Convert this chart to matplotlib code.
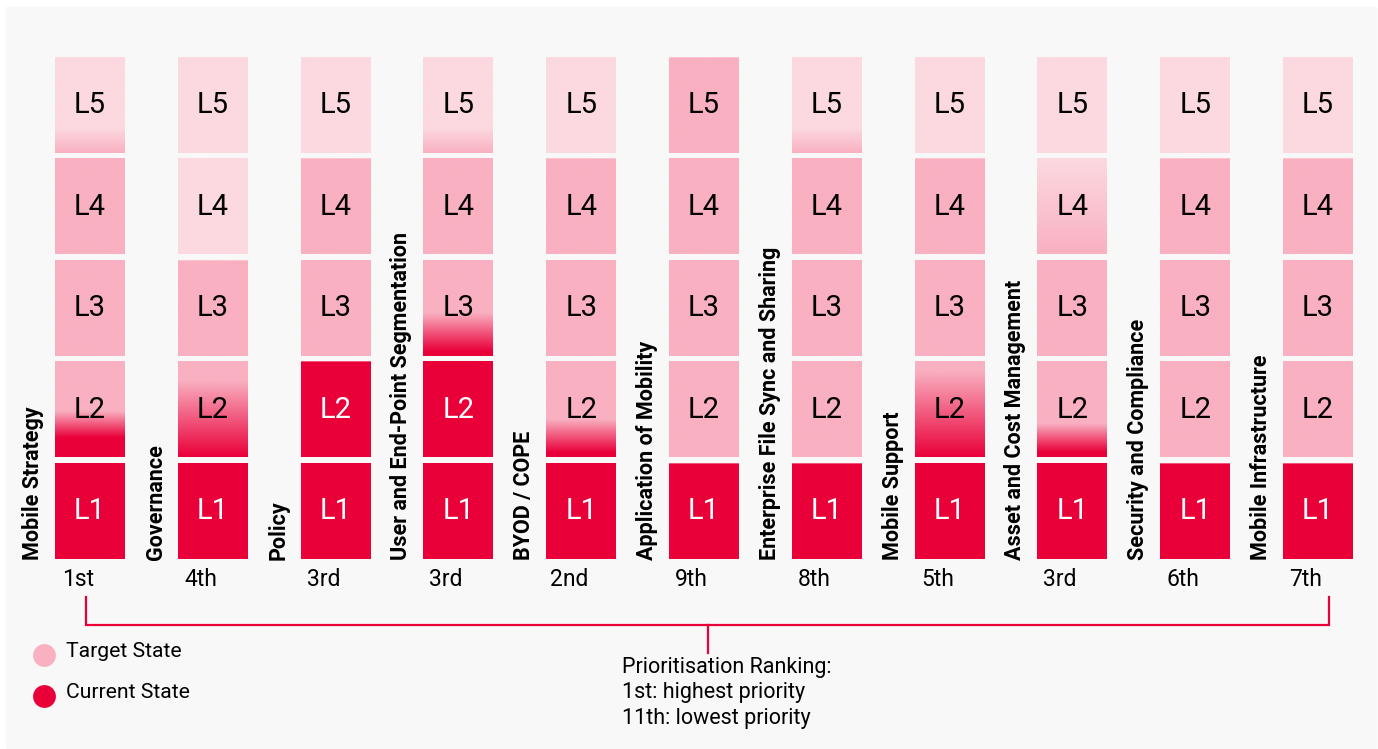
import numpy as np
import matplotlib.pyplot as plt
from matplotlib.colors import to_rgb
from matplotlib.patches import Rectangle

plt.rcParams['font.family'] = ['Roboto', 'DejaVu Sans']

categories = ['Mobile Strategy', 'Governance', 'Policy', 'User and End-Point Segmentation',
              'BYOD / COPE', 'Application of Mobility', 'Enterprise File Sync and Sharing',
              'Mobile Support', 'Asset and Cost Management', 'Security and Compliance',
              'Mobile Infrastructure']
ranks = ['1st', '4th', '3rd', '3rd', '2nd', '9th', '8th', '5th', '3rd', '6th', '7th']
levels = ['L1', 'L2', 'L3', 'L4', 'L5']

# maturity levels (fractional), with how soft the edge of each state looks
current = [1.34, 1.40, 2.00, 2.25, 1.22, 1.00, 1.00, 1.45, 1.20, 1.00, 1.00]
current_blur = [0.28, 0.80, 0.0, 0.40, 0.35, 0.0, 0.0, 0.90, 0.30, 0.0, 0.0]
target = [4.13, 3.00, 4.00, 4.13, 4.00, 5.00, 4.13, 4.00, 3.50, 4.00, 4.00]
target_blur = [0.26, 0.0, 0.0, 0.26, 0.0, 0.0, 0.26, 0.0, 1.00, 0.0, 0.0]

dark = np.array(to_rgb('#EA0039'))
pink = np.array(to_rgb('#F9B0C1'))
light = np.array(to_rgb('#FCD9E0'))
bg = '#F8F8F8'

def ramp(h, c, w):
    if w <= 0:
        return (h >= c).astype(float)
    return np.clip((h - c) / w + 0.5, 0, 1)

fig = plt.figure(figsize=(13.78, 7.49), dpi=100)
ax = fig.add_axes([0, 0, 1, 1])
ax.set_xlim(-0.733, 10.489)
ax.set_ylim(-1.872, 5.507)
ax.axis('off')
ax.add_patch(Rectangle((6 / 1378, 1 / 749), 1370 / 1378, 741 / 749,
                       transform=ax.transAxes, color=bg, zorder=0))

half_w = 0.285
block_h = 0.936
for i in range(len(categories)):
    for k in range(1, 6):
        h = np.linspace(k - 1, k, 200)
        a = ramp(h, current[i], current_blur[i])[:, None]
        b = ramp(h, target[i], target_blur[i])[:, None]
        col = dark * (1 - a) + pink * a
        col = col * (1 - b) + light * b
        img = col[:, None, :]
        ax.imshow(img, extent=[i - half_w, i + half_w, k - 1, k - 1 + block_h],
                  origin='lower', aspect='auto', interpolation='bilinear', zorder=2)
        solid = k <= current[i] - current_blur[i] / 2 + 1e-9
        ax.text(i, k - 1 + block_h / 2, levels[k - 1], ha='center', va='center',
                fontsize=21, color='white' if solid else 'black', zorder=3)
    ax.text(i - 0.464, -0.01, categories[i], rotation=90, ha='center', va='bottom',
            fontsize=15.5, fontweight='bold', color='black', zorder=3)
    ax.text(i - 0.1, -0.207, ranks[i], ha='center', va='center', fontsize=16.5,
            color='black', zorder=3)

# bracket under the ranking
xl, xr = -0.03, 10.09
ax.plot([xl, xl, xr, xr], [-0.374, -0.655, -0.655, -0.374], color=dark, lw=1.6,
        solid_joinstyle='miter', zorder=3)
ax.plot([(xl + xr) / 2] * 2, [-0.655, -0.926], color=dark, lw=1.6, zorder=3)

ax.text(4.33, -1.074, 'Prioritisation Ranking:', ha='left', va='center', fontsize=15.5)
ax.text(4.33, -1.320, '1st: highest priority', ha='left', va='center', fontsize=15.5)
ax.text(4.33, -1.567, '11th: lowest priority', ha='left', va='center', fontsize=15.5)

# legend
ax.scatter([-0.375], [-0.946], s=270, color=pink, zorder=3, linewidths=0)
ax.scatter([-0.375], [-1.350], s=270, color=dark, zorder=3, linewidths=0)
ax.text(-0.195, -0.916, 'Target State', ha='left', va='center', fontsize=15.2)
ax.text(-0.195, -1.320, 'Current State', ha='left', va='center', fontsize=15.2)

fig.savefig('out.png', dpi=100, facecolor='white')
